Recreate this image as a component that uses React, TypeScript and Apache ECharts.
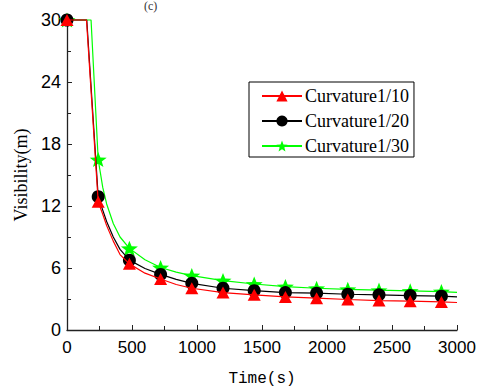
import React, { useEffect, useRef } from "react";
import * as echarts from "echarts";

const seriesNames = ["Curvature1/10", "Curvature1/20", "Curvature1/30"];
const markerTimes = [0, 240, 480, 720, 960, 1200, 1440, 1680, 1920, 2160, 2400, 2640, 2880];

// [time, visibility] pairs (points not in markerTimes are drawn without markers)
const curve10: number[][] = [
  [0, 30], [150, 30], [240, 12.4], [275, 11.2], [305, 10.1], [356, 8.6], [408, 7.3], [480, 6.4],
  [600, 5.5], [720, 4.93], [840, 4.4], [960, 4.04], [1200, 3.62], [1440, 3.4], [1680, 3.2], [1920, 3.08],
  [2160, 2.95], [2400, 2.85], [2640, 2.79], [2880, 2.72], [3000, 2.66],
];
const curve20: number[][] = [
  [0, 30], [152, 30], [240, 12.9], [275, 11.6], [305, 10.5], [356, 9.0], [408, 7.8], [480, 6.76],
  [600, 5.95], [720, 5.38], [840, 4.9], [960, 4.52], [1200, 4.04], [1440, 3.81], [1680, 3.62], [1920, 3.56],
  [2160, 3.46], [2400, 3.4], [2640, 3.33], [2880, 3.27], [3000, 3.2],
];
const curve30: number[][] = [
  [0, 30], [185, 30], [240, 16.5], [275, 13.8], [305, 12.2], [356, 10.3], [408, 9.0], [480, 7.9],
  [600, 6.8], [720, 6.05], [840, 5.6], [960, 5.26], [1200, 4.78], [1440, 4.45], [1680, 4.2], [1920, 4.04],
  [2160, 3.94], [2400, 3.85], [2640, 3.78], [2880, 3.72], [3000, 3.65],
];

const colors = ["#ff0000", "#000000", "#00ff00"];
const STAR =
  "path://M0,-10 L2.469,-3.398 L9.511,-3.09 L3.994,1.298 L5.878,8.09 L0,4.2 L-5.878,8.09 L-3.994,1.298 L-9.511,-3.09 L-2.469,-3.398 Z";
const symbols = ["triangle", "circle", STAR];
const symbolSizes: any[] = [[13, 12], 13, [17, 16]];

function toData(curve: number[][]) {
  return curve.map((p) =>
    markerTimes.indexOf(p[0]) >= 0 ? { value: p } : { value: p, symbol: "none" }
  );
}

export default function App() {
  const ref = useRef<HTMLDivElement>(null);
  useEffect(() => {
    if (!ref.current) return;
    const chart = echarts.init(ref.current, undefined, { renderer: "svg" });
    const curves = [curve10, curve20, curve30];
    const axisColor = "#222";
    chart.setOption({
      animation: false,
      backgroundColor: "#fff",
      grid: { left: 67, right: 26, top: 20, bottom: 59 },
      graphic: [
        {
          type: "text",
          left: 144,
          top: 0,
          style: { text: "(c)", font: "12px 'Liberation Serif'", fill: "#333" },
        },
      ],
      legend: {
        left: 249,
        top: 82,
        orient: "vertical",
        borderColor: "#000",
        borderWidth: 1,
        padding: [5, 5, 2, 12],
        itemGap: 7,
        itemWidth: 40,
        itemHeight: 14,
        textStyle: { fontFamily: "Liberation Serif", fontSize: 18, color: "#000", padding: [0, 0, 0, -2] },
        data: seriesNames,
      },
      xAxis: {
        type: "value",
        min: 0,
        max: 3000,
        interval: 500,
        name: "Time(s)",
        nameLocation: "middle",
        nameGap: 41,
        nameTextStyle: { fontFamily: "Liberation Mono", fontSize: 16, color: "#000" },
        axisLine: { lineStyle: { color: axisColor, width: 1.3 } },
        axisTick: { inside: true, length: 5, lineStyle: { color: axisColor } },
        minorTick: { show: true, splitNumber: 2, length: 4, lineStyle: { color: axisColor } },
        splitLine: { show: false },
        axisLabel: {
          fontFamily: "Liberation Sans",
          fontSize: 17,
          color: "#000",
          margin: 9,
          formatter: (v: number) => String(v),
        },
      },
      yAxis: {
        type: "value",
        min: 0,
        max: 30,
        interval: 6,
        name: "Visibility(m)",
        nameLocation: "middle",
        nameGap: 33,
        nameTextStyle: { fontFamily: "Liberation Serif", fontSize: 18, color: "#000" },
        axisLine: { show: true, lineStyle: { color: axisColor, width: 1.3 } },
        axisTick: { show: true, inside: true, length: 5, lineStyle: { color: axisColor } },
        minorTick: { show: true, splitNumber: 2, length: 4, lineStyle: { color: axisColor } },
        splitLine: { show: false },
        axisLabel: { fontFamily: "Liberation Sans", fontSize: 18, color: "#000", margin: 6 },
      },
      series: curves.map((c, i) => ({
        name: seriesNames[i],
        type: "line",
        data: toData(c),
        smooth: false,
        symbol: symbols[i],
        symbolSize: symbolSizes[i],
        symbolKeepAspect: true,
        showAllSymbol: true,
        clip: false,
        color: colors[i],
        itemStyle: { color: colors[i] },
        lineStyle: { color: colors[i], width: 1.2 },
        z: 3 - i,
      })),
    });
    return () => chart.dispose();
  }, []);
  return <div ref={ref} style={{ width: 483, height: 392, position: "absolute", left: 0, top: 0 }} />;
}
